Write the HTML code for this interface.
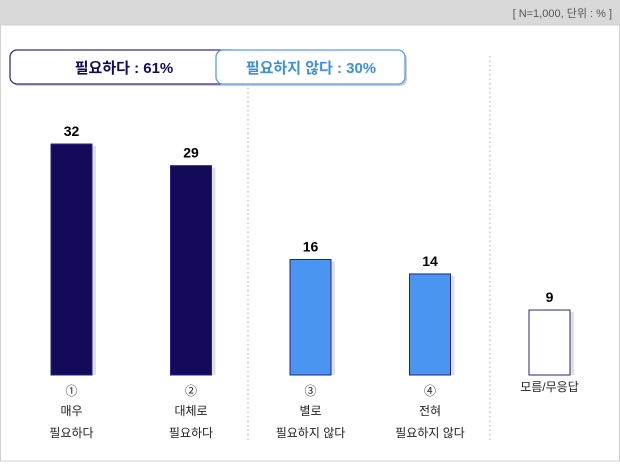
<!DOCTYPE html>
<html><head><meta charset="utf-8"><style>
body{margin:0;width:620px;height:463px;overflow:hidden;background:#fff;font-family:"Liberation Sans","Noto Sans CJK KR",sans-serif}
</style></head><body>
<svg width="620" height="463" xmlns="http://www.w3.org/2000/svg" font-family="Liberation Sans, Noto Sans CJK KR, sans-serif">
<rect x="0" y="0" width="620" height="25" fill="#d9d9d9"/>
<text x="612" y="17" text-anchor="end" font-size="11" fill="#555">[ N=1,000, 단위 : % ]</text>
<rect x="0.5" y="25" width="619" height="436" fill="#fff" stroke="#d0d0d0"/>
<line x1="248" y1="56" x2="248" y2="442" stroke="#aaa" stroke-dasharray="1.5,3"/>
<line x1="490" y1="56" x2="490" y2="442" stroke="#aaa" stroke-dasharray="1.5,3"/>
<rect x="12" y="52" width="228" height="34" rx="7" fill="#ccc"/>
<rect x="10" y="50" width="228" height="34" rx="7" fill="#fff" stroke="#3b2d7a" stroke-width="1.3"/>
<text x="124" y="73" text-anchor="middle" font-size="15" font-weight="bold" fill="#140a5a">필요하다 : 61%</text>
<rect x="218" y="52" width="189" height="34" rx="7" fill="#ccc"/>
<rect x="216" y="50" width="189" height="34" rx="7" fill="#fff" stroke="#5a9af0" stroke-width="1.3"/>
<text x="311" y="73" text-anchor="middle" font-size="15" font-weight="bold" fill="#3d8ee8">필요하지 않다 : 30%</text>
<g id="bars"></g>
</svg>
<script>
const categories=[["①","매우","필요하다"],["②","대체로","필요하다"],["③","별로","필요하지 않다"],["④","전혀","필요하지 않다"],["","모름/무응답",""]];
const values=[32,29,16,14,9];
const fills=["#140a5a","#140a5a","#4a95ef","#4a95ef","#ffffff"];
const base=375, scale=231/32, barW=41;
function xc(i){return 71.5+i*119.5;}
function yv(v){return base-v*scale;}
const g=document.getElementById('bars');
const NS="http://www.w3.org/2000/svg";
values.forEach((v,i)=>{
  const x=xc(i)-barW/2, y=yv(v);
  const sh=document.createElementNS(NS,'rect');
  sh.setAttribute('x',x+barW);sh.setAttribute('y',y+2);sh.setAttribute('width',4);sh.setAttribute('height',base-y-2);sh.setAttribute('fill','#e0e0e0');
  
  
  g.appendChild(sh);
  const r=document.createElementNS(NS,'rect');
  r.setAttribute('x',x);r.setAttribute('y',y);r.setAttribute('width',barW);r.setAttribute('height',base-y);
  r.setAttribute('fill',fills[i]);r.setAttribute('stroke','#2a2280');r.setAttribute('stroke-width','1');
  
  
  g.appendChild(r);
  const t=document.createElementNS(NS,'text');
  t.setAttribute('x',xc(i));t.setAttribute('y',y-8);t.setAttribute('text-anchor','middle');t.setAttribute('font-size','14');t.setAttribute('font-weight','bold');t.setAttribute('fill','#000');
  t.textContent=v;
  
  
  g.appendChild(t);
  const c=categories[i];
  const lines=i===4?[[c[1],391]]:[[c[0],395],[c[1],415],[c[2],437]];
  lines.forEach(([s,yy])=>{
    const l=document.createElementNS(NS,'text');
    l.setAttribute('x',xc(i));l.setAttribute('y',yy);l.setAttribute('text-anchor','middle');l.setAttribute('font-size','12');l.setAttribute('fill','#222');
    l.textContent=s;
    
    
    g.appendChild(l);
  });
});
</script>
</body></html>
